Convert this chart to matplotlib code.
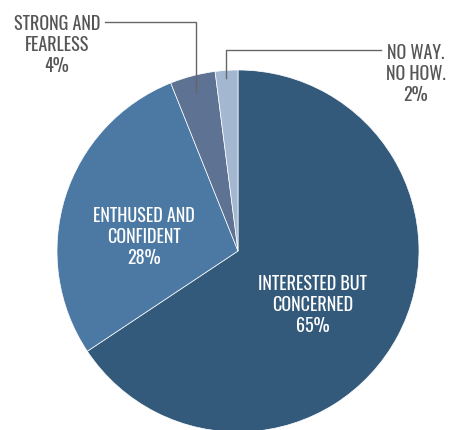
import matplotlib
matplotlib.use("Agg")
import matplotlib.pyplot as plt
from matplotlib import font_manager

labels = ["INTERESTED BUT\nCONCERNED", "ENTHUSED AND\nCONFIDENT", "STRONG AND\nFEARLESS", "NO WAY.\nNO HOW."]
values = [65, 28, 4, 2]
colors = ["#335a7b", "#4b79a4", "#5e7293", "#a3b7d0"]

names = {f.name for f in font_manager.fontManager.ttflist}
fam = (["Oswald Light"] if "Oswald Light" in names else []) + ["Oswald", "DejaVu Sans"]
light = [f.fname for f in font_manager.fontManager.ttflist
         if f.name.startswith("Oswald") and ("Light" in f.fname or f.weight in (300, "light"))]

W, H = 450, 430
fig = plt.figure(figsize=(W/100, H/100), dpi=100)
cx, cy, r = 238, 251, 181
ax = fig.add_axes([(cx - r)/W, (H - cy - r)/H, 2*r/W, 2*r/H])
ax.pie(values, colors=colors, startangle=90, counterclock=False,
       wedgeprops=dict(edgecolor="white", linewidth=0.5), radius=1)
ax.set_xlim(-1, 1); ax.set_ylim(-1, 1)
ax.set_aspect("equal")
ax.axis("off")

def d(px, py):
    return ((px - cx)/r, (cy - py)/r)

fs = 13
def lab(px, py, text, color):
    x, y = d(px, py)
    kw = dict(ha="center", va="center", color=color, linespacing=1.22, clip_on=False)
    if light:
        kw["fontproperties"] = font_manager.FontProperties(fname=light[0], size=fs)
    else:
        kw.update(fontsize=fs, family=fam, fontweight=300)
    ax.text(x, y, text, **kw)

lab(313, 305, f"{labels[0]}\n{values[0]}%", "white")
lab(144, 237, f"{labels[1]}\n{values[1]}%", "white")
lab(57, 45, f"{labels[2]}\n{values[2]}%", "#555555")
lab(416, 74, f"{labels[3]}\n{values[3]}%", "#555555")

lc = "#666666"
for pts in ([(105, 22), (196, 22), (196, 92)], [(381, 50), (226, 50), (226, 78)]):
    xs, ys = zip(*[d(*p) for p in pts])
    ax.plot(xs, ys, color=lc, lw=1.0, clip_on=False)

fig.savefig("out.png", dpi=100, facecolor="white")
